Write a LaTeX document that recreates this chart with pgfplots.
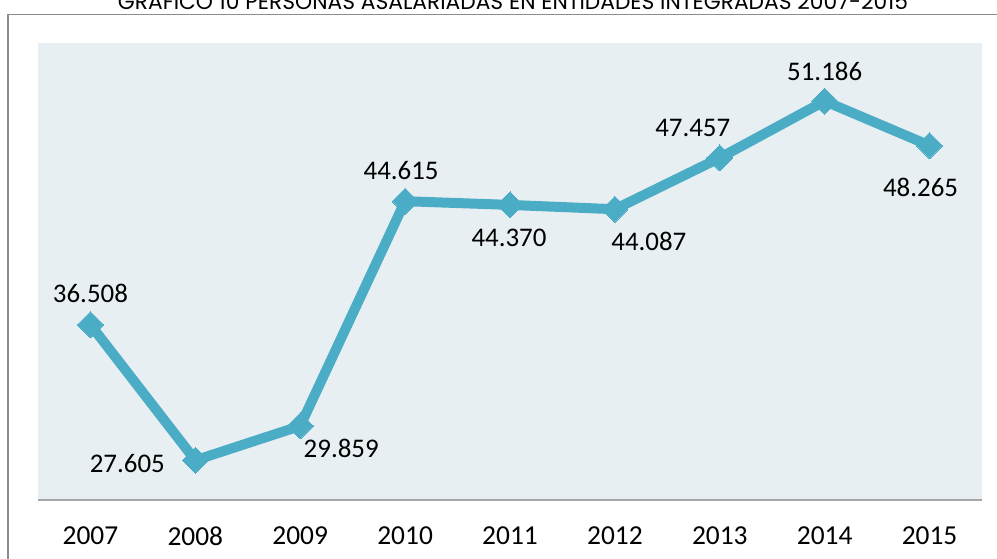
\documentclass[border=0pt]{standalone}
\usepackage{pgfplots}
\pgfplotsset{compat=1.18}
\usepackage{fontspec}
\setmainfont{Carlito}
\newfontfamily\titlefont{Poppins}
\definecolor{bgc}{RGB}{232,239,243}
\definecolor{linec}{RGB}{75,172,198}
\definecolor{framec}{RGB}{140,140,140}
\definecolor{axc}{RGB}{166,166,166}
\begin{document}
\begin{tikzpicture}[x=1bp,y=1bp]
\path[use as bounding box] (0,0) rectangle (997,559);
\draw[framec, line width=1.5bp] (8,-5) -- (8,544.5) -- (1005,544.5);
\node[anchor=base, inner sep=0pt] at (513,549) {\resizebox{790bp}{!}{\titlefont GRÁFICO 10 PERSONAS ASALARIADAS EN ENTIDADES INTEGRADAS 2007-2015}};
\begin{axis}[
  at={(38bp,59bp)}, anchor=south west,
  scale only axis, width=944bp, height=457bp,
  xmin=-0.5, xmax=8.5, ymin=25000, ymax=55000,
  axis x line*=bottom, axis y line=none,
  x axis line style={axc, line width=1.5bp, -},
  axis background/.style={fill=bgc},
  xtick={0,1,2,3,4,5,6,7,8},
  xticklabels={2007,2008,2009,2010,2011,2012,2013,2014,2015},
  major tick length=0pt,
  xticklabel style={font=\fontsize{27.5}{32}\selectfont, inner sep=0pt, anchor=north, yshift=-27bp},
  clip=false,
]
\addplot[linec, line width=10bp, mark=square*, mark size=9.2bp, mark options={fill=linec, draw=linec, line width=0pt, rotate=45}] coordinates {
(0,36508) (1,27605) (2,29859) (3,44615) (4,44370) (5,44087) (6,47457) (7,51186) (8,48265)
};
\tikzset{lbl/.style={font=\fontsize{27}{32}\selectfont, inner sep=0pt, anchor=center}}
\node[lbl, xshift=0bp, yshift=31bp] at (axis cs:0,36508) {36.508};
\node[lbl, xshift=-68bp, yshift=-3bp] at (axis cs:1,27605) {27.605};
\node[lbl, xshift=41bp, yshift=-22bp] at (axis cs:2,29859) {29.859};
\node[lbl, xshift=-4bp, yshift=31bp] at (axis cs:3,44615) {44.615};
\node[lbl, xshift=-1bp, yshift=-33bp] at (axis cs:4,44370) {44.370};
\node[lbl, xshift=34bp, yshift=-32bp] at (axis cs:5,44087) {44.087};
\node[lbl, xshift=-27bp, yshift=30bp] at (axis cs:6,47457) {47.457};
\node[lbl, xshift=0bp, yshift=30bp] at (axis cs:7,51186) {51.186};
\node[lbl, xshift=-9bp, yshift=-42bp] at (axis cs:8,48265) {48.265};
\end{axis}
\end{tikzpicture}
\end{document}
